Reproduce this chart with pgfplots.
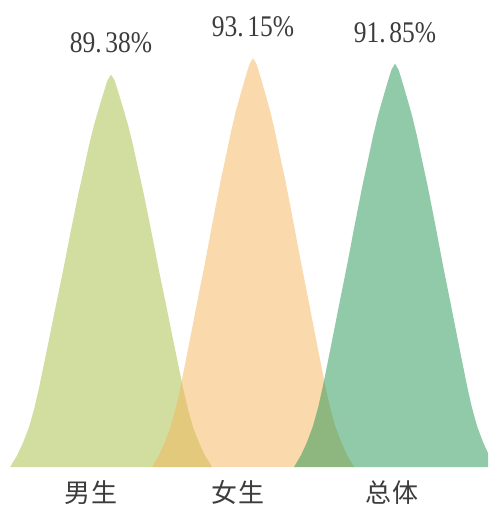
\documentclass[border=0pt]{standalone}
\usepackage{pgfplots}
\pgfplotsset{compat=1.18}
\usepackage{fontspec}
\setmainfont{Liberation Serif}
\newfontfamily\cjk{Noto Sans CJK SC}
\definecolor{cA}{RGB}{165,189,65}
\definecolor{cB}{RGB}{245,181,89}
\definecolor{cC}{RGB}{33,150,84}
\definecolor{txt}{RGB}{60,60,60}
\newcommand\sq[1]{\scalebox{0.85}[1]{#1}}
\begin{document}
\begin{tikzpicture}
\begin{axis}[
  scale only axis, width=488pt, height=506pt,
  xmin=-0.782, xmax=2.655, ymin=-8.88, ymax=106.36,
  hide axis, clip=true,
]
% 男生 89.38
\addplot[draw=none, fill=cA, fill opacity=0.5] coordinates {
(-0.711,0) (-0.661,2.68) (-0.622,5.36) (-0.579,8.94) (-0.540,13.41) (-0.508,17.88) (-0.451,26.81) (-0.395,35.75) (-0.338,44.69) (-0.284,53.63) (-0.228,62.57) (-0.191,67.93) (-0.155,73.29) (-0.121,77.76) (-0.089,81.34) (-0.064,84.02) (-0.043,86.25) (-0.025,88.04) (0,89.38)
(0.025,88.04) (0.043,86.25) (0.064,84.02) (0.089,81.34) (0.121,77.76) (0.155,73.29) (0.191,67.93) (0.228,62.57) (0.284,53.63) (0.338,44.69) (0.395,35.75) (0.451,26.81) (0.508,17.88) (0.540,13.41) (0.579,8.94) (0.622,5.36) (0.661,2.68) (0.711,0)
} -- cycle;
% 女生 93.15
\addplot[draw=none, fill=cB, fill opacity=0.5] coordinates {
(0.289,0) (0.339,2.79) (0.378,5.59) (0.421,9.32) (0.460,13.97) (0.492,18.63) (0.549,27.95) (0.605,37.26) (0.662,46.58) (0.716,55.89) (0.772,65.21) (0.809,70.79) (0.845,76.38) (0.879,81.04) (0.911,84.77) (0.936,87.56) (0.957,89.89) (0.975,91.75) (1,93.15)
(1.025,91.75) (1.043,89.89) (1.064,87.56) (1.089,84.77) (1.121,81.04) (1.155,76.38) (1.191,70.79) (1.228,65.21) (1.284,55.89) (1.338,46.58) (1.395,37.26) (1.451,27.95) (1.508,18.63) (1.540,13.97) (1.579,9.32) (1.622,5.59) (1.661,2.79) (1.711,0)
} -- cycle;
% 总体 91.85
\addplot[draw=none, fill=cC, fill opacity=0.5] coordinates {
(1.289,0) (1.339,2.76) (1.378,5.51) (1.421,9.19) (1.460,13.78) (1.492,18.37) (1.549,27.56) (1.605,36.74) (1.662,45.93) (1.716,55.11) (1.772,64.30) (1.809,69.81) (1.845,75.32) (1.879,79.91) (1.911,83.58) (1.936,86.34) (1.957,88.64) (1.975,90.47) (2,91.85)
(2.025,90.47) (2.043,88.64) (2.064,86.34) (2.089,83.58) (2.121,79.91) (2.155,75.32) (2.191,69.81) (2.228,64.30) (2.284,55.11) (2.338,45.93) (2.395,36.74) (2.451,27.56) (2.508,18.37) (2.540,13.78) (2.579,9.19) (2.622,5.51) (2.661,2.76) (2.711,0)
} -- cycle;
% value labels
\addplot[draw=none, mark=none, nodes near coords={\sq{\pgfplotspointmeta}}, point meta=explicit symbolic,
  nodes near coords style={anchor=south, inner sep=0pt, yshift=21pt, text=txt,
    font=\fontsize{30}{30}\selectfont}]
coordinates {
(0,89.38) [89.\hspace{0.15em}38\%]
(1,93.15) [93.\hspace{0.15em}15\%]
(2,91.85) [91.\hspace{0.15em}85\%]
};
% category labels
\node[anchor=north, inner sep=0pt, text=txt, font=\cjk\fontsize{26}{26}\selectfont] at (axis cs:-0.141,-3.0) {男\hspace{1.5pt}生};
\node[anchor=north, inner sep=0pt, text=txt, font=\cjk\fontsize{26}{26}\selectfont] at (axis cs:0.894,-3.0) {女\hspace{1.5pt}生};
\node[anchor=north, inner sep=0pt, text=txt, font=\cjk\fontsize{26}{26}\selectfont] at (axis cs:1.979,-3.0) {总\hspace{1.5pt}体};
\end{axis}
\pgfresetboundingbox
\path[use as bounding box] (0,0) rectangle (488pt,506pt);
\end{tikzpicture}
\end{document}
